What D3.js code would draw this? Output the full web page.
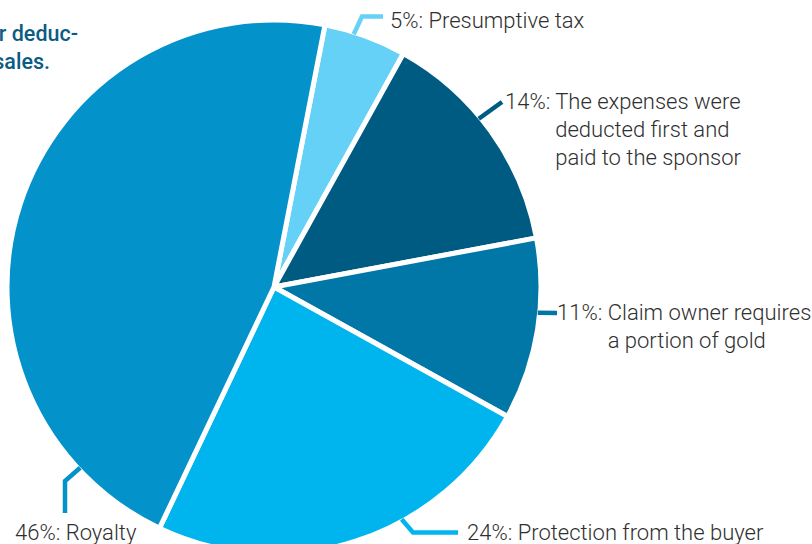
<!DOCTYPE html>
<html>
<head>
<meta charset="utf-8">
<script src="https://cdn.jsdelivr.net/npm/d3@7"></script>
<style>
  html, body { margin: 0; padding: 0; background: #ffffff; }
  svg { display: block; }
</style>
</head>
<body>
<div id="chart"></div>
<script>
// Shares of deductions taken from gold sales
const categories = ["Presumptive tax", "Expenses", "Claim owner", "Protection", "Royalty"];
const values = [5, 14, 11, 24, 46];
const sliceColors = ["#66d1f6", "#005b82", "#0077a7", "#00b5ee", "#0392c9"];
const labelText = [
  ["Presumptive tax"],
  ["The expenses were", "deducted first and", "paid to the sponsor"],
  ["Claim owner requires", "a portion of gold"],
  ["Protection from the buyer"],
  ["Royalty"]
];
const headingLines = ["r deduc-", "sales."];

const W = 812, H = 544;
const cx = 274, cy = 287, R = 267;
const rad = Math.PI / 180;

// Leader geometry for each label: angle on the rim where it leaves the pie,
// bend points, and where the text block starts.
const leaders = [
  { angle: 17.5, bends: [[362, 16.5], [383, 16.5]], tx: 390, ty: 28 },
  { angle: 50.6, bends: [[502, 102]], tx: 505, ty: 109 },
  { angle: 95.6, bends: [[557, 313]], tx: 557, ty: 320 },
  { angle: 151.2, bends: [[413, 532.5], [458, 532.5]], tx: 467, ty: 540 },
  { angle: 227, bends: [[65, 481], [65, 513]], tx: 15, ty: 540 }
];

const svg = d3.select("#chart").append("svg")
  .attr("width", W).attr("height", H);

const start = 11 * rad;
const pie = d3.pie().sort(null).value(d => d)
  .startAngle(start).endAngle(start + 2 * Math.PI);
const arc = d3.arc().innerRadius(0).outerRadius(R);

const g = svg.append("g").attr("transform", `translate(${cx},${cy})`);
g.selectAll("path.slice")
  .data(pie(values))
  .join("path")
  .attr("class", "slice")
  .attr("d", arc)
  .attr("fill", (d, i) => sliceColors[i])
  .attr("stroke", "#ffffff")
  .attr("stroke-width", 5)
  .attr("stroke-linejoin", "miter");

// leader lines
const rimR = R - 2;
const line = d3.line();
svg.selectAll("path.leader")
  .data(leaders)
  .join("path")
  .attr("class", "leader")
  .attr("d", d => {
    const a = d.angle * rad;
    const p0 = [cx + rimR * Math.sin(a), cy - rimR * Math.cos(a)];
    return line([p0, ...d.bends]);
  })
  .attr("fill", "none")
  .attr("stroke", (d, i) => sliceColors[i])
  .attr("stroke-width", 4.5)
  .attr("stroke-linejoin", "miter");

// labels: "NN%: " prefix followed by the category text, continuation lines hang under the text
const fontFamily = "Roboto, 'Open Sans', sans-serif";
const fs = 22, lh = 28, textColor = "#2f2f2f";
leaders.forEach((ld, i) => {
  const t = svg.append("text")
    .attr("x", ld.tx).attr("y", ld.ty)
    .attr("font-family", fontFamily)
    .attr("font-weight", 300)
    .attr("font-size", fs)
    .attr("fill", textColor);
  const prefix = t.append("tspan").text(values[i] + "%: ");
  t.append("tspan").text(labelText[i][0]);
  const indent = prefix.node().getComputedTextLength();
  labelText[i].slice(1).forEach((s, k) => {
    svg.append("text")
      .attr("x", ld.tx + indent).attr("y", ld.ty + lh * (k + 1))
      .attr("font-family", fontFamily)
      .attr("font-weight", 300)
      .attr("font-size", fs)
      .attr("fill", textColor)
      .text(s);
  });
});

// heading fragment running in from the left edge
const headingRight = [78, 50];
headingLines.forEach((s, i) => {
  svg.append("text")
    .attr("x", headingRight[i]).attr("y", 41 + 28 * i)
    .attr("text-anchor", "end")
    .attr("font-family", fontFamily)
    .attr("font-weight", 500)
    .attr("font-size", 21.5)
    .attr("fill", "#0b5b84")
    .text(s);
});
</script>
</body>
</html>
